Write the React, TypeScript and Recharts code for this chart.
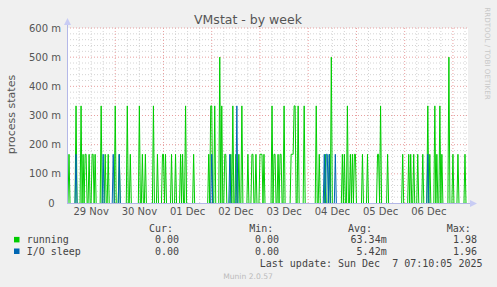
import { CartesianGrid, Line, LineChart, ReferenceLine, XAxis, YAxis } from 'recharts';

// x axis is hours since 29 Nov 00:00, one sample every 30 min
const DAY_LABELS = ['29 Nov', '30 Nov', '01 Dec', '02 Dec', '03 Dec', '04 Dec', '05 Dec', '06 Dec'];
const LABEL_HOURS = [12, 36, 60, 84, 108, 132, 156, 180];
const Y_TICKS = [0, 0.1, 0.2, 0.3, 0.4, 0.5, 0.6];
const END_HOUR = 199.5;

// running: non-zero samples (everything else reads as 0)
const RUNNING_HOURS = [
  1, 4.5, 7, 8, 9, 9.5, 11, 12.5, 13, 14, 17, 19, 20.5,
  24, 26, 30, 31.5, 36, 37.5, 39, 43, 45, 47.5,
  48, 49, 52, 54, 56.5, 57.5, 59, 63, 70.5, 71.5,
  72, 73.5, 76, 77, 78.5, 79, 81.5, 82.5, 84, 85.5, 87, 90, 92, 92.5, 94,
  96, 96.5, 97, 98, 102, 103, 103.5, 105, 106, 106.5, 108, 111.5, 112, 112.5, 113, 113.5, 115, 118,
  124, 125.5, 128.5, 130.5, 131.5, 137, 138, 139.5, 141, 142, 143, 143.5,
  147, 149.5, 154.5, 155, 156, 159.5, 167,
  170, 171, 172.5, 174.5, 177, 179.5, 180.5, 183, 184, 185.5, 186.5, 190, 192, 194.5, 198,
];
const RUNNING_VALUES = [
  0.167, 0.333, 0.333, 0.167, 0.167, 0.167, 0.167, 0.167, 0.167, 0.167, 0.333, 0.167, 0.167,
  0.333, 0.167, 0.333, 0.167, 0.333, 0.167, 0.167, 0.333, 0.167, 0.167,
  0.167, 0.167, 0.167, 0.167, 0.167, 0.167, 0.333, 0.167, 0.167, 0.333,
  0.333, 0.333, 0.5, 0.333, 0.167, 0.167, 0.167, 0.333, 0.167, 0.167, 0.333, 0.167, 0.167, 0.167, 0.167,
  0.167, 0.167, 0.167, 0.167, 0.333, 0.167, 0.167, 0.167, 0.167, 0.167, 0.333, 0.167, 0.167, 0.167, 0.333, 0.333, 0.333, 0.333,
  0.333, 0.167, 0.167, 0.167, 0.5, 0.167, 0.167, 0.333, 0.167, 0.167, 0.167, 0.167,
  0.167, 0.167, 0.167, 0.167, 0.333, 0.167, 0.167,
  0.167, 0.167, 0.167, 0.167, 0.167, 0.333, 0.167, 0.333, 0.167, 0.333, 0.167, 0.5, 0.167, 0.167, 0.167,
];

// I/O sleep: non-zero samples
const IOSLEEP_HOURS = [4.5, 18, 23, 26, 72, 81, 84.5, 128, 129, 129.5, 130.5, 133.5, 179.5];
const IOSLEEP_VALUES = [0.167, 0.167, 0.167, 0.167, 0.167, 0.167, 0.333, 0.167, 0.167, 0.167, 0.167, 0.167, 0.167];

const LEGEND = [
  { label: 'running', color: '#00cc00', cur: '0.00', min: '0.00', avg: '63.34m', max: '1.98' },
  { label: 'I/O sleep', color: '#0066b3', cur: '0.00', min: '0.00', avg: '5.42m', max: '1.96' },
];

const MAJOR_Y = Y_TICKS.slice(1);
const MINOR_Y = Array.from({ length: 30 }, (_, i) => +(i * 0.02).toFixed(2)).filter((v) => v > 0 && Math.round(v * 100) % 10 !== 0);
const MAJOR_X = Array.from({ length: 8 }, (_, i) => (i + 1) * 24);
const MINOR_X = Array.from({ length: 34 }, (_, i) => i * 6).filter((h) => h > 0 && h < END_HOUR && h % 24 !== 0);

type Pt = { h: number; v: number | null };

// turn sparse samples into spikes that drop back to zero
function toSpikes(hours: number[], values: number[]): Pt[] {
  const pts: Pt[] = [];
  hours.forEach((h, i) => {
    if (hours[i - 1] !== h - 0.5) {
      pts.push({ h: h - 0.5, v: null });
      pts.push({ h: h - 0.5, v: 0 });
    }
    pts.push({ h, v: values[i] });
    if (hours[i + 1] !== h + 0.5) pts.push({ h: h + 0.5, v: 0 });
  });
  return pts;
}

const running = toSpikes(RUNNING_HOURS, RUNNING_VALUES);
const ioSleep = toSpikes(IOSLEEP_HOURS, IOSLEEP_VALUES);

const tickStyle = { fontSize: 10, fill: '#555', fontFamily: 'DejaVu Sans' };
const mono = 'DejaVu Sans Mono';

export default function App() {
  return (
    <div style={{ position: 'absolute', left: 0, top: 0, width: 497, height: 287, background: '#f0f0f0' }}>
      <LineChart width={497} height={287} margin={{ top: 28, right: 29, bottom: 64, left: 0 }}>
        <CartesianGrid fill="#ffffff" horizontal={false} vertical={false} />
        {MINOR_Y.map((v) => (
          <ReferenceLine key={'my' + v} y={v} stroke="#d4d4d4" strokeDasharray="1 2" />
        ))}
        {MINOR_X.map((h) => (
          <ReferenceLine key={'mx' + h} x={h} stroke="#d4d4d4" strokeDasharray="1 2" />
        ))}
        {MAJOR_Y.map((v) => (
          <ReferenceLine key={'Y' + v} y={v} stroke="#e8a0a0" strokeDasharray="1 2" />
        ))}
        {MAJOR_X.map((h) => (
          <ReferenceLine key={'X' + h} x={h} stroke="#e8a0a0" strokeDasharray="1 2" />
        ))}
        <XAxis
          type="number"
          dataKey="h"
          domain={[0, END_HOUR]}
          ticks={LABEL_HOURS}
          tickFormatter={(h) => DAY_LABELS[LABEL_HOURS.indexOf(h)] ?? ''}
          axisLine={false}
          tickLine={false}
          tickSize={0}
          tickMargin={5}
          height={20}
          tick={tickStyle}
          allowDataOverflow
        />
        <YAxis
          domain={[0, 0.6]}
          ticks={Y_TICKS}
          tickFormatter={(v) => (v === 0 ? '0\u00a0\u00a0' : `${Math.round(v * 1000)} m`)}
          axisLine={false}
          tickLine={false}
          tickSize={0}
          tickMargin={6}
          width={67}
          tick={tickStyle}
          allowDataOverflow
        />
        <Line
          data={running}
          dataKey="v"
          type="linear"
          stroke="#00cc00"
          strokeWidth={1}
          dot={false}
          isAnimationActive={false}
        />
        <Line
          data={ioSleep}
          dataKey="v"
          type="linear"
          stroke="#0066b3"
          strokeWidth={1}
          dot={false}
          isAnimationActive={false}
        />
      </LineChart>

      <svg
        width={497}
        height={287}
        style={{ position: 'absolute', left: 0, top: 0, pointerEvents: 'none' }}
      >
        {/* axes with arrows */}
        <line x1={67.5} y1={203} x2={67.5} y2={24} stroke="#b4b8e8" />
        <polygon points="67.5,18 64,25 71,25" fill="#c8ccf4" />
        <line x1={67} y1={203.5} x2={471} y2={203.5} stroke="#b4b8e8" />
        <polygon points="477,203.5 470,200 470,207" fill="#c8ccf4" />

        <text x={248} y={19} textAnchor="middle" dominantBaseline="central" fontFamily="DejaVu Sans" fontSize={12.5} fill="#555">
          VMstat - by week
        </text>
        <text
          x={11}
          y={114.5}
          textAnchor="middle"
          dominantBaseline="central"
          fontFamily="DejaVu Sans"
          fontSize={11}
          fill="#555"
          transform="rotate(-90 11 114.5)"
        >
          process states
        </text>
        <text
          x={487.5}
          y={53.5}
          textAnchor="middle"
          dominantBaseline="central"
          fontFamily="DejaVu Sans"
          fontSize={7.2}
          fill="#c8c8c8"
          transform="rotate(90 487.5 53.5)"
        >
          RRDTOOL / TOBI OETIKER
        </text>

        <g fontFamily={mono} fontSize={10} fill="#444" dominantBaseline="central">
          <text x={149} y={228.3}>Cur:</text>
          <text x={249.3} y={228.3}>Min:</text>
          <text x={348} y={228.3}>Avg:</text>
          <text x={446.7} y={228.3}>Max:</text>
          {LEGEND.map((row, i) => {
            const y = 239.7 + i * 11.6;
            return (
              <g key={row.label}>
                <rect x={14} y={y - 2.8} width={5.5} height={5.5} fill={row.color} />
                <text x={26.7} y={y}>{row.label}</text>
                <text x={179} y={y} textAnchor="end">{row.cur}</text>
                <text x={279} y={y} textAnchor="end">{row.min}</text>
                <text x={386.7} y={y} textAnchor="end">{row.avg}</text>
                <text x={477} y={y} textAnchor="end">{row.max}</text>
              </g>
            );
          })}
          <text x={482.5} y={263.7} textAnchor="end" style={{ whiteSpace: 'pre' }}>
            {'Last update: Sun Dec  7 07:10:05 2025'}
          </text>
        </g>
        <text x={248} y={276.3} textAnchor="middle" dominantBaseline="central" fontFamily="DejaVu Sans" fontSize={7.6} fill="#bbb">
          Munin 2.0.57
        </text>
      </svg>
    </div>
  );
}
